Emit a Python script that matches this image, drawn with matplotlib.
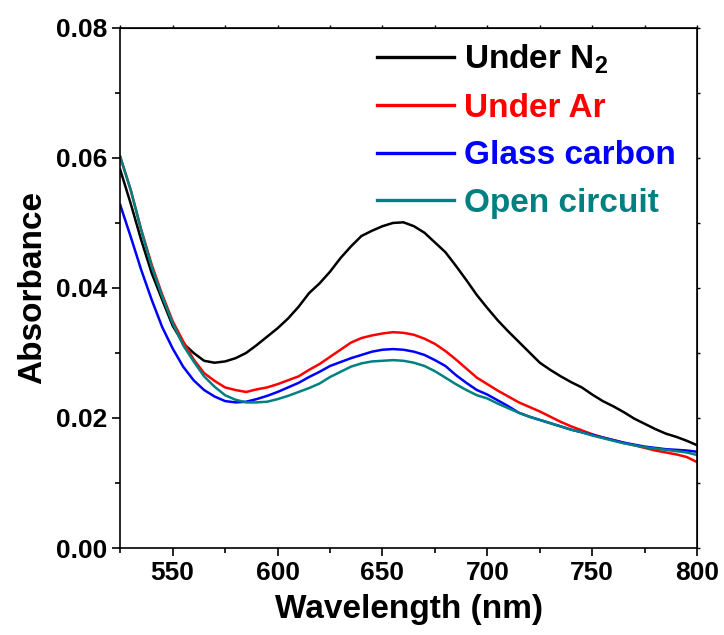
import numpy as np
import matplotlib
matplotlib.use('Agg')
from matplotlib import pyplot as plt
from matplotlib.ticker import MultipleLocator, FormatStrFormatter

# wavelength grid (nm), values every 5 nm
wavelength = np.arange(525, 801, 5)

under_n2 = [0.0582, 0.0530, 0.0474, 0.0423, 0.0382, 0.0342, 0.0315, 0.0300, 0.0288, 0.0285,
            0.0287, 0.0292, 0.0300, 0.0312, 0.0325, 0.0338, 0.0353, 0.0371, 0.0392, 0.0407,
            0.0425, 0.0446, 0.0464, 0.0480, 0.0488, 0.0495, 0.0500, 0.0501, 0.0495, 0.0485,
            0.0470, 0.0455, 0.0434, 0.0412, 0.0389, 0.0369, 0.0350, 0.0333, 0.0317, 0.0301,
            0.0285, 0.0274, 0.0264, 0.0255, 0.0247, 0.0236, 0.0226, 0.0218, 0.0209, 0.0199,
            0.0191, 0.0183, 0.0176, 0.0171, 0.0165, 0.0158]

under_ar = [0.0602, 0.0551, 0.0490, 0.0436, 0.0390, 0.0349, 0.0318, 0.0290, 0.0269, 0.0257,
            0.0247, 0.0243, 0.0240, 0.0244, 0.0247, 0.0252, 0.0258, 0.0264, 0.0274, 0.0283,
            0.0294, 0.0305, 0.0316, 0.0323, 0.0327, 0.0330, 0.0332, 0.0331, 0.0328, 0.0322,
            0.0314, 0.0303, 0.0290, 0.0276, 0.0262, 0.0252, 0.0242, 0.0233, 0.0224, 0.0217,
            0.0210, 0.0202, 0.0194, 0.0187, 0.0181, 0.0175, 0.0170, 0.0166, 0.0162, 0.0158,
            0.0154, 0.0150, 0.0147, 0.0144, 0.0140, 0.0132]

glass_carbon = [0.0528, 0.0479, 0.0428, 0.0382, 0.0340, 0.0307, 0.0279, 0.0258, 0.0243, 0.0233,
                0.0226, 0.0224, 0.0225, 0.0229, 0.0234, 0.0240, 0.0247, 0.0254, 0.0263, 0.0271,
                0.0280, 0.0286, 0.0292, 0.0297, 0.0302, 0.0305, 0.0306, 0.0305, 0.0302, 0.0297,
                0.0289, 0.0280, 0.0266, 0.0254, 0.0243, 0.0236, 0.0227, 0.0218, 0.0208, 0.0202,
                0.0197, 0.0192, 0.0187, 0.0182, 0.0178, 0.0174, 0.0170, 0.0166, 0.0162, 0.0159,
                0.0156, 0.0154, 0.0152, 0.0151, 0.0150, 0.0148]

open_circuit = [0.0602, 0.0551, 0.0489, 0.0433, 0.0387, 0.0346, 0.0312, 0.0287, 0.0264, 0.0248,
                0.0235, 0.0228, 0.0224, 0.0224, 0.0225, 0.0229, 0.0234, 0.0240, 0.0246, 0.0253,
                0.0263, 0.0271, 0.0279, 0.0284, 0.0287, 0.0288, 0.0289, 0.0288, 0.0285, 0.0280,
                0.0272, 0.0262, 0.0252, 0.0243, 0.0235, 0.0230, 0.0222, 0.0215, 0.0208, 0.0202,
                0.0197, 0.0192, 0.0187, 0.0182, 0.0178, 0.0173, 0.0169, 0.0165, 0.0161, 0.0158,
                0.0155, 0.0153, 0.0151, 0.0149, 0.0147, 0.0143]

series = [
    ('Under N$_2$', under_n2, 'black'),
    ('Under Ar', under_ar, '#ff0000'),
    ('Glass carbon', glass_carbon, '#0000ff'),
    ('Open circuit', open_circuit, '#008080'),
]

plt.rcParams['font.family'] = ['Liberation Sans', 'DejaVu Sans']
plt.rcParams['font.weight'] = 'bold'
plt.rcParams['mathtext.fontset'] = 'custom'
plt.rcParams['mathtext.rm'] = 'Liberation Sans:bold'
plt.rcParams['mathtext.it'] = 'Liberation Sans:bold'
plt.rcParams['mathtext.bf'] = 'Liberation Sans:bold'

fig = plt.figure(figsize=(7.24, 6.35), dpi=100)
ax = fig.add_axes([0.166, 0.137, 0.797, 0.819])

for label, values, color in series:
    ax.plot(wavelength, values, color=color, lw=1.8, label=label)

ax.set_xlim(525, 800)
ax.set_ylim(0, 0.08)
ax.xaxis.set_major_locator(MultipleLocator(50))
ax.xaxis.set_minor_locator(MultipleLocator(25))
ax.yaxis.set_major_locator(MultipleLocator(0.02))
ax.yaxis.set_minor_locator(MultipleLocator(0.01))
ax.yaxis.set_major_formatter(FormatStrFormatter('%.2f'))
ax.set_xticks([550, 600, 650, 700, 750, 800])

for sp in ax.spines.values():
    sp.set_linewidth(1.2)
ax.tick_params(which='major', direction='out', length=6, width=1.2, labelsize=19, pad=3)
ax.tick_params(which='minor', direction='out', length=3.5, width=1.2)

# small ticks on the top and right frame
top = ax.secondary_xaxis('top')
top.set_xticks(np.arange(525, 801, 25))
top.tick_params(length=2, width=1, labeltop=False)
right = ax.secondary_yaxis('right')
right.set_yticks(np.arange(0, 0.081, 0.01))
right.tick_params(length=2, width=1, labelright=False)

ax.set_xlabel('Wavelength (nm)', fontsize=24, fontweight='bold', labelpad=7)
ax.set_ylabel('Absorbance', fontsize=24, fontweight='bold', labelpad=6)

leg = ax.legend(loc='upper left', bbox_to_anchor=(0.445, 0.972), frameon=False,
                fontsize=24, handlelength=2.3, handletextpad=0.3, labelspacing=0.5,
                borderpad=0, borderaxespad=0)
for text, (_, _, color) in zip(leg.get_texts(), series):
    text.set_color(color)
for line in leg.get_lines():
    line.set_linewidth(2.4)

fig.savefig('out.png', dpi=100)
